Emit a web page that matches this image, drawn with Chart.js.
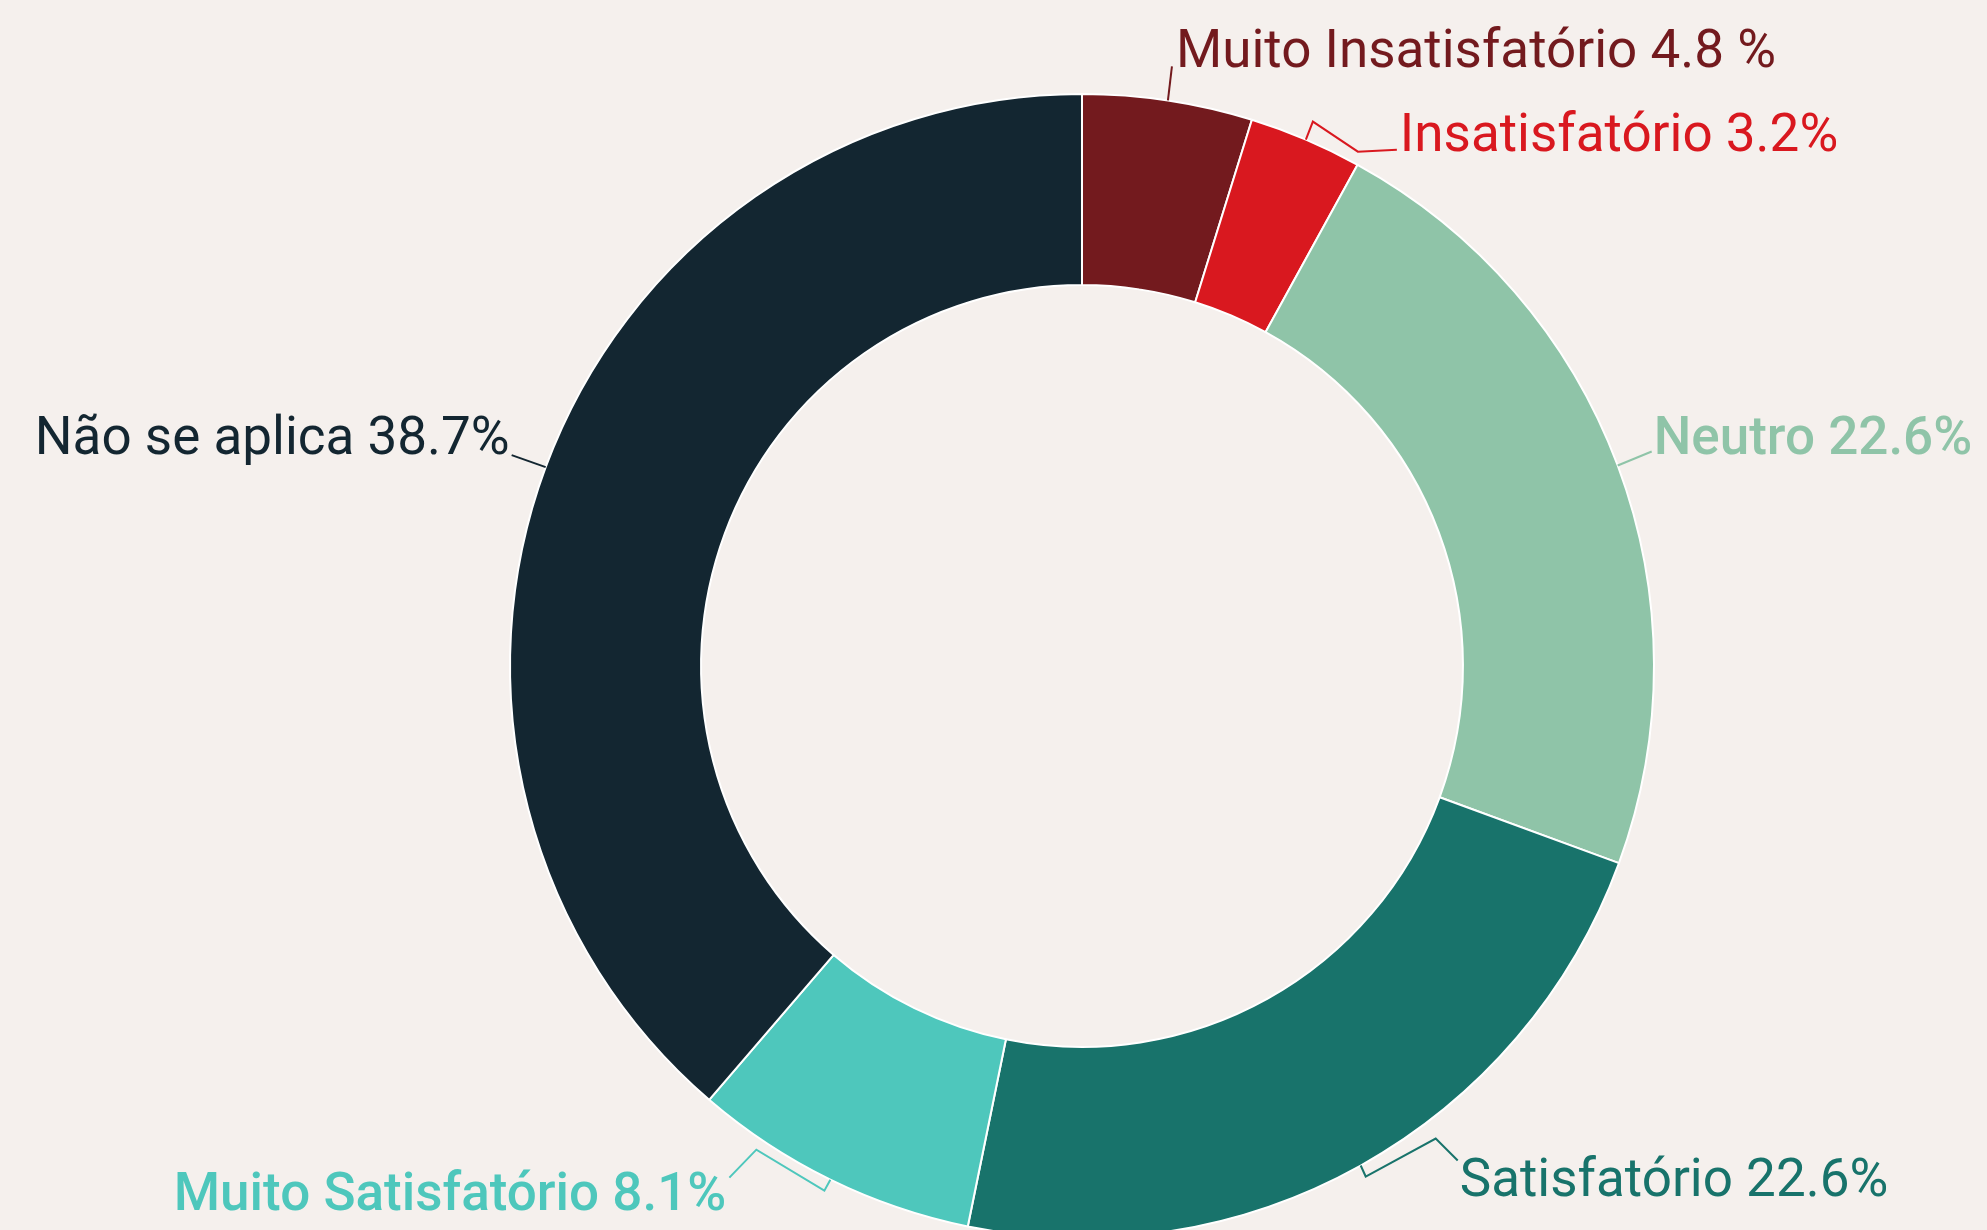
<!DOCTYPE html>
<html>
<head>
<meta charset="utf-8">
<script src="https://cdn.jsdelivr.net/npm/chart.js@4"></script>
<style>
  html, body { margin: 0; padding: 0; background: #f5f0ed; overflow: hidden; }
  #wrap { width: 1987px; height: 1332px; position: relative; }
</style>
</head>
<body>
<div id="wrap"><canvas id="satisfacaoChart"></canvas></div>
<script>
// dados
const categorias = ["Muito Insatisfatório", "Insatisfatório", "Neutro", "Satisfatório", "Muito Satisfatório", "Não se aplica"];
const percentuais = [4.8, 3.2, 22.6, 22.6, 8.1, 38.7];
const rotulos = ["Muito Insatisfatório 4.8 %", "Insatisfatório 3.2%", "Neutro 22.6%", "Satisfatório 22.6%", "Muito Satisfatório 8.1%", "Não se aplica 38.7%"];
const cores = ["#731a1e", "#d9181f", "#8fc4a8", "#18736b", "#4ec7bc", "#132631"];

// posição dos rótulos (deslocamentos a partir da borda externa de cada fatia)
const layoutRotulos = [
  { pts: [[4, -34]], txt: [8, -33], align: "left", peso: 400 },
  { pts: [[7, -18], [52, 12], [91, 10]], txt: [94, 11], align: "left", peso: 400 },
  { pts: [[34, -14]], txt: [36, -11], align: "left", peso: 500 },
  { pts: [[5, 11], [75, -27], [97, -5]], txt: [99, 30], align: "left", peso: 400 },
  { pts: [[-6, 11], [-74, -30], [-101, -2]], txt: [-104, 30], align: "right", peso: 500 },
  { pts: [[-34, -12]], txt: [-36, -13], align: "right", peso: 400 }
];

const leaderLabels = {
  id: "leaderLabels",
  afterDatasetsDraw(chart) {
    const ctx = chart.ctx;
    const meta = chart.getDatasetMeta(0);
    meta.data.forEach((arc, i) => {
      const lay = layoutRotulos[i];
      const mid = (arc.startAngle + arc.endAngle) / 2;
      const ax = arc.x + Math.cos(mid) * arc.outerRadius;
      const ay = arc.y + Math.sin(mid) * arc.outerRadius;

      ctx.save();
      ctx.strokeStyle = cores[i];
      ctx.lineWidth = 2;
      ctx.beginPath();
      ctx.moveTo(ax, ay);
      lay.pts.forEach(p => ctx.lineTo(ax + p[0], ay + p[1]));
      ctx.stroke();

      ctx.fillStyle = cores[i];
      ctx.font = lay.peso + " 53px Roboto";
      ctx.textAlign = lay.align;
      ctx.textBaseline = "alphabetic";
      ctx.fillText(rotulos[i], ax + lay.txt[0], ay + lay.txt[1]);
      ctx.restore();
    });
  }
};

new Chart(document.getElementById("satisfacaoChart").getContext("2d"), {
  type: "doughnut",
  data: {
    labels: categorias,
    datasets: [{
      data: percentuais,
      backgroundColor: cores,
      borderColor: "#ffffff",
      borderWidth: 2
    }]
  },
  options: {
    responsive: true,
    maintainAspectRatio: false,
    animation: false,
    radius: 572,
    cutout: "66.6%",
    layout: { padding: { left: 177, right: 0, top: 0, bottom: 0 } },
    plugins: {
      legend: { display: false },
      tooltip: { enabled: false }
    }
  },
  plugins: [leaderLabels]
});
</script>
</body>
</html>
